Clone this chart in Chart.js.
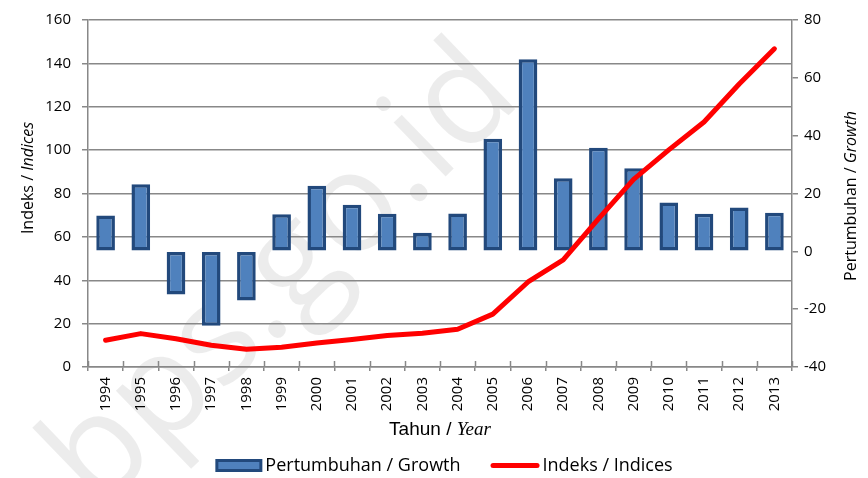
<!DOCTYPE html>
<html>
<head>
<meta charset="utf-8">
<script src="https://cdn.jsdelivr.net/npm/chart.js@4.4.1/dist/chart.umd.min.js"></script>
<style>
  body { margin: 0; background: #fff; }
  #wrap { width: 868px; height: 478px; }
</style>
</head>
<body>
<div id="wrap"><canvas id="myChart" width="868" height="478"></canvas></div>
<script>
// data
var years = ['1994', '1995', '1996', '1997', '1998', '1999', '2000', '2001', '2002', '2003',
             '2004', '2005', '2006', '2007', '2008', '2009', '2010', '2011', '2012', '2013'];
var growth = [12.4, 23.2, -14.9, -25.7, -17.0, 12.8, 22.7, 16.1, 13.0, 6.4,
              13.1, 38.9, 66.4, 25.3, 35.8, 28.7, 16.9, 13.0, 15.2, 13.3];
var indices = [12.3, 15.4, 13.0, 10.0, 8.2, 9.1, 11.1, 12.7, 14.5, 15.6,
               17.4, 24.4, 39.2, 49.4, 68.3, 86.5, 100.1, 113.0, 130.5, 146.7];
var indexTicks = [0, 20, 40, 60, 80, 100, 120, 140, 160];
var growthTicks = [-40, -20, 0, 20, 40, 60, 80];

var barLabel = 'Pertumbuhan / Growth';
var lineLabel = 'Indeks / Indices';

var grey = '#888888';
var barFill = '#4f81bd';
var barEdge = '#22497c';
var lineRed = '#ff0000';
var sans = "'Open Sans', sans-serif";

// draws a run of differently styled pieces centred on (x, y)
function drawParts(ctx, parts, x, y, angle) {
  ctx.save();
  ctx.translate(x, y);
  ctx.rotate(angle);
  ctx.textAlign = 'left';
  ctx.textBaseline = 'alphabetic';
  ctx.fillStyle = '#000';
  var total = 0;
  parts.forEach(function (p) {
    ctx.font = p.font;
    p.w = ctx.measureText(p.text).width;
    total += p.w;
  });
  var cx = -total / 2;
  parts.forEach(function (p) {
    ctx.font = p.font;
    ctx.fillText(p.text, cx, 0);
    cx += p.w;
  });
  ctx.restore();
}

var decor = {
  id: 'decor',
  beforeDraw: function (chart) {
    var ctx = chart.ctx;
    ctx.save();
    ctx.fillStyle = '#fff';
    ctx.fillRect(0, 0, chart.width, chart.height);
    // faint watermark, anchored near the foot of its "i"
    var size = 140;
    ctx.font = size + 'px ' + sans;
    var lead = ctx.measureText('bps.go.').width + size * 0.13;
    ctx.translate(450, 172);
    ctx.rotate(-44 * Math.PI / 180);
    ctx.fillStyle = 'rgba(0,0,0,0.075)';
    ctx.textBaseline = 'alphabetic';
    ctx.fillText('bps.go.id', -lead, 0);
    ctx.restore();
  },
  beforeDatasetsDraw: function (chart) {
    // small tick marks that cross into the plot on the category axis
    var ctx = chart.ctx;
    var xs = chart.scales.x;
    var step = xs.getPixelForValue(1) - xs.getPixelForValue(0);
    ctx.save();
    ctx.strokeStyle = grey;
    ctx.lineWidth = 1.5;
    for (var i = 0; i <= years.length; i++) {
      var px = Math.round(xs.getPixelForValue(0) - step / 2 + i * step) + 0.5;
      ctx.beginPath();
      ctx.moveTo(px, xs.top - 6);
      ctx.lineTo(px, xs.top);
      ctx.stroke();
    }
    ctx.restore();
  },
  afterDraw: function (chart) {
    var ctx = chart.ctx;
    var area = chart.chartArea;
    var mid = (area.left + area.right) / 2;

    // axis titles
    drawParts(ctx, [
      { text: 'Indeks / ', font: '16px ' + sans },
      { text: 'Indices', font: 'italic 16px ' + sans }
    ], 33, area.top + 158, -Math.PI / 2);
    drawParts(ctx, [
      { text: 'Pertumbuhan / ', font: '16px ' + sans },
      { text: 'Growth', font: 'italic 16px ' + sans }
    ], 856, area.top + 176, -Math.PI / 2);
    drawParts(ctx, [
      { text: 'Tahun / ', font: "19px 'Liberation Sans', Arial, sans-serif" },
      { text: 'Year', font: "italic 19px 'Liberation Serif', 'Times New Roman', serif" }
    ], mid, 435, 0);

    // legend
    ctx.save();
    ctx.font = '18px ' + sans;
    ctx.textBaseline = 'middle';
    ctx.textAlign = 'left';
    var y = 465.5;
    var w1 = ctx.measureText(barLabel).width;
    var w2 = ctx.measureText(lineLabel).width;
    var total = 47 + 3 + w1 + 30 + 49 + 3 + w2;
    var x = mid + 4 - total / 2;
    ctx.fillStyle = barFill;
    ctx.strokeStyle = barEdge;
    ctx.lineWidth = 3;
    ctx.fillRect(x + 1.5, y - 5, 44, 10);
    ctx.strokeRect(x + 1.5, y - 5, 44, 10);
    ctx.fillStyle = '#000';
    ctx.fillText(barLabel, x + 50, y);
    x += 50 + w1 + 30;
    ctx.strokeStyle = lineRed;
    ctx.lineWidth = 5;
    ctx.lineCap = 'round';
    ctx.beginPath();
    ctx.moveTo(x + 2.5, y);
    ctx.lineTo(x + 46.5, y);
    ctx.stroke();
    ctx.fillText(lineLabel, x + 52, y);
    ctx.restore();
  }
};

new Chart(document.getElementById('myChart'), {
  type: 'bar',
  data: {
    labels: years,
    datasets: [
      {
        type: 'line',
        label: lineLabel,
        data: indices,
        yAxisID: 'y',
        borderColor: lineRed,
        backgroundColor: lineRed,
        borderWidth: 5,
        pointRadius: 0,
        tension: 0,
        borderCapStyle: 'round',
        borderJoinStyle: 'round',
        order: 0
      },
      {
        label: barLabel,
        data: growth,
        yAxisID: 'y1',
        backgroundColor: barFill,
        borderColor: barEdge,
        borderWidth: 3.5,
        borderSkipped: false,
        categoryPercentage: 1,
        barPercentage: 0.53,
        order: 1
      }
    ]
  },
  options: {
    responsive: false,
    animation: false,
    devicePixelRatio: 1,
    layout: { padding: { top: 15, left: 0, right: 0, bottom: 0 } },
    plugins: {
      legend: { display: false },
      tooltip: { enabled: false }
    },
    scales: {
      x: {
        offset: true,
        grid: {
          offset: true,
          drawOnChartArea: false,
          color: grey,
          lineWidth: 1.5,
          tickLength: 4
        },
        border: { color: grey, width: 1.5 },
        ticks: {
          minRotation: 90,
          maxRotation: 90,
          padding: 6,
          color: '#000',
          font: { family: sans, size: 15 }
        },
        afterFit: function (s) { s.height = 111; }
      },
      y: {
        position: 'left',
        min: indexTicks[0],
        max: indexTicks[indexTicks.length - 1],
        afterBuildTicks: function (s) {
          s.ticks = indexTicks.map(function (v) { return { value: v }; });
        },
        grid: { color: grey, lineWidth: 1.5, tickLength: 6 },
        border: { color: grey, width: 1.5 },
        ticks: {
          padding: 11,
          color: '#000',
          font: { family: sans, size: 15 }
        },
        afterFit: function (s) { s.width = 88; }
      },
      y1: {
        position: 'right',
        min: growthTicks[0],
        max: growthTicks[growthTicks.length - 1],
        afterBuildTicks: function (s) {
          s.ticks = growthTicks.map(function (v) { return { value: v }; });
        },
        grid: { drawOnChartArea: false, color: grey, lineWidth: 1.5, tickLength: 6 },
        border: { color: grey, width: 1.5 },
        ticks: {
          padding: 6,
          color: '#000',
          font: { family: sans, size: 15 }
        },
        afterFit: function (s) { s.width = 76; }
      }
    }
  },
  plugins: [decor]
});
</script>
</body>
</html>
